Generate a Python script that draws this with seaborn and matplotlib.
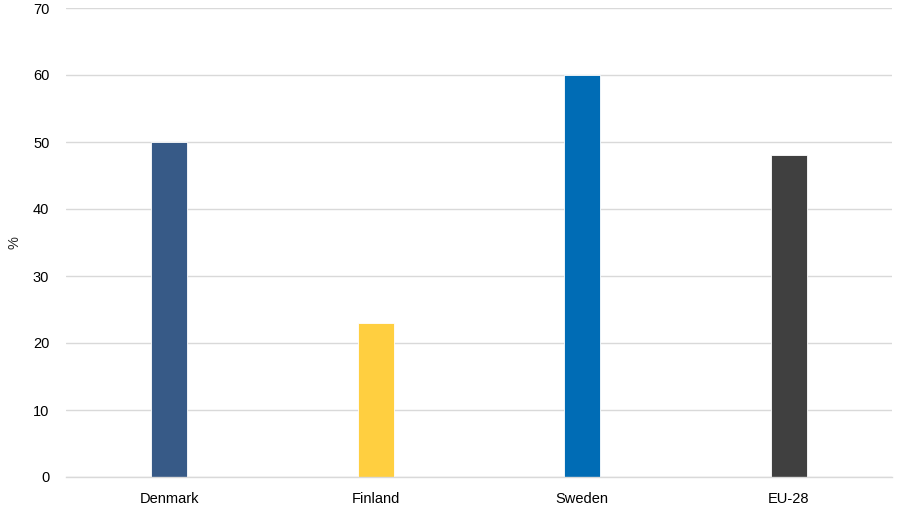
import matplotlib
matplotlib.use("Agg")
import matplotlib.pyplot as plt
import seaborn as sns
import pandas as pd

categories = ["Denmark", "Finland", "Sweden", "EU-28"]
values = [50, 23, 60, 48]
colors = ["#375a87", "#ffcf40", "#006cb5", "#404040"]
yticks = [0, 10, 20, 30, 40, 50, 60, 70]

sns.set_theme(style="white")
plt.rcParams["font.family"] = ["Liberation Sans", "DejaVu Sans"]

df = pd.DataFrame({"country": categories, "value": values})

fig = plt.figure(figsize=(8.97, 5.08), dpi=100)
ax = fig.add_axes([66 / 897, 1 - 477 / 508, (892 - 66) / 897, (477 - 8) / 508])

sns.barplot(data=df, x="country", y="value", hue="country", palette=colors,
            width=0.175, legend=False, ax=ax, edgecolor="white", linewidth=0.6,
            saturation=1)

ax.set_xlim(-0.5, 3.5)
ax.set_ylim(0, 70)
ax.set_yticks(yticks)
ax.set_yticklabels([str(t) for t in yticks])
ax.yaxis.grid(True, color="#d9d9d9", linewidth=1)
ax.set_axisbelow(True)
for s in ["left", "right", "top"]:
    ax.spines[s].set_visible(False)
ax.spines["bottom"].set_color("#d9d9d9")
ax.spines["bottom"].set_linewidth(1)
ax.tick_params(axis="both", length=0, labelsize=10.5, colors="#000000", pad=12)
ax.tick_params(axis="x", pad=11)
ax.set_xlabel("")
ax.set_ylabel("%", fontsize=10.5, labelpad=8)

fig.savefig("out.png", dpi=100)
